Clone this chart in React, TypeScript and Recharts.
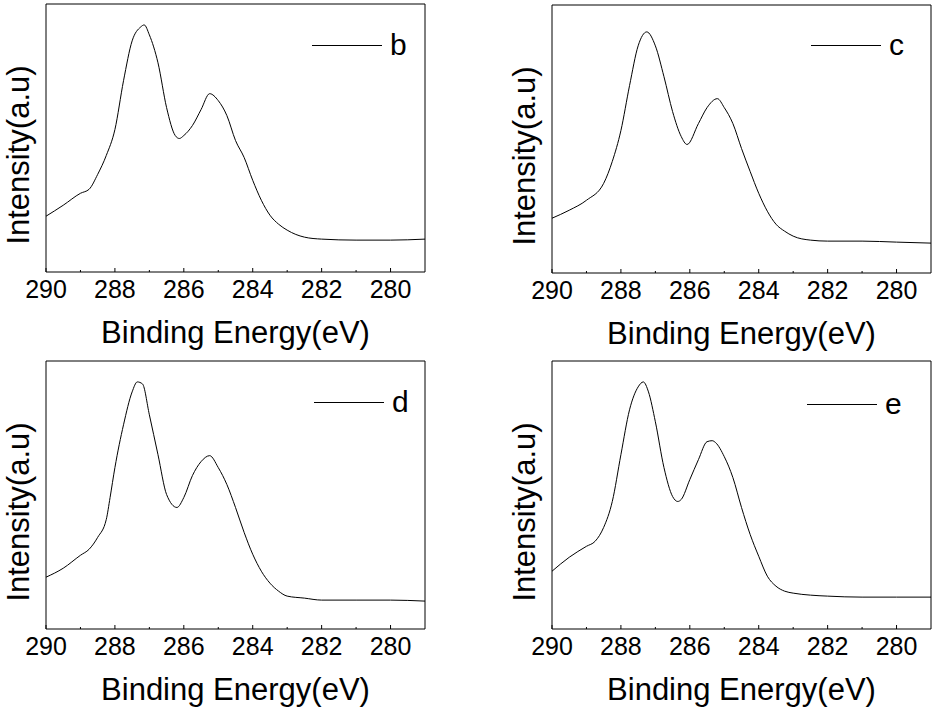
import React from 'react';
import { LineChart, Line, XAxis, YAxis, Legend } from 'recharts';

// C 1s spectra (energy in eV, intensity in a.u.)
const energyB = [290, 289.5, 289, 288.75, 288.5, 288.25, 288, 287.75, 287.5, 287.25, 287.15, 287, 286.75, 286.5, 286.25, 286.13, 286, 285.75, 285.5, 285.25, 285, 284.75, 284.5, 284.25, 284, 283.75, 283.5, 283.25, 283, 282.5, 282, 281, 280, 279];
const intensityB = [56, 67, 79, 83, 98, 117, 143, 192, 232, 246, 248, 238, 210, 165, 137, 134, 137, 147, 163, 179, 172, 157, 132, 115, 92, 72, 57, 48, 42, 35, 33, 32, 32, 33];

const energyC = [290, 289.5, 289, 288.5, 288.25, 288, 287.75, 287.5, 287.25, 287, 286.75, 286.5, 286.25, 286.08, 285.75, 285.5, 285.2, 285, 284.75, 284.5, 284.25, 284, 283.75, 283.5, 283.25, 283, 282.5, 282, 281, 280, 279];
const intensityC = [55, 63, 73, 90, 112, 143, 188, 228, 242, 228, 197, 162, 137, 129, 150, 166, 175, 166, 150, 125, 102, 80, 62, 49, 42, 37, 33, 32, 32, 31, 30];

const energyD = [290, 289.5, 289, 288.75, 288.5, 288.25, 288.14, 288, 287.75, 287.5, 287.35, 287.2, 287, 286.75, 286.5, 286.2, 286, 285.75, 285.5, 285.25, 285, 284.75, 284.5, 284.25, 284, 283.75, 283.5, 283.25, 283, 282.5, 282, 281, 280, 279];
const intensityD = [52, 61, 74, 80, 92, 110, 132, 162, 205, 238, 248, 246, 215, 175, 135, 122, 132, 154, 168, 174, 162, 145, 122, 97, 75, 58, 46, 38, 33, 31, 29, 29, 29, 28];

const energyE = [290, 289.5, 289, 288.75, 288.5, 288.25, 288, 287.75, 287.5, 287.35, 287.2, 287, 286.75, 286.5, 286.35, 286.25, 286, 285.75, 285.5, 285.35, 285.25, 285, 284.75, 284.5, 284.25, 284, 283.75, 283.5, 283.25, 283, 282.5, 282, 281, 280, 279];
const intensityE = [58, 72, 83, 88, 102, 128, 175, 220, 243, 248, 238, 208, 162, 133, 128, 130, 150, 170, 188, 189, 187, 173, 152, 122, 95, 73, 53, 43, 38, 36, 34, 33, 32, 32, 32];

const xTicks = [290, 289, 288, 287, 286, 285, 284, 283, 282, 281, 280];
const xDomain = [279, 290];
const yDomain = [0, 269];
const xTitle = 'Binding Energy(eV)';
const yTitle = 'Intensity(a.u)';

const FONT = '"Liberation Sans", Arial, Helvetica, sans-serif';

const panels = [
  { name: 'b', energy: energyB, intensity: intensityB, left: 0, top: 0, legendX: 312, legendY: 45 },
  { name: 'c', energy: energyC, intensity: intensityC, left: 506, top: 1, legendX: 305, legendY: 44 },
  { name: 'd', energy: energyD, intensity: intensityD, left: 0, top: 357, legendX: 314, legendY: 45 },
  { name: 'e', energy: energyE, intensity: intensityE, left: 506, top: 357, legendX: 301, legendY: 47 },
];

// ticks drawn inward, labels only on even values
const XTick = (props: any) => {
  const { x, y, payload } = props;
  const major = payload.value % 2 === 0;
  return (
    <g>
      <line x1={x} x2={x} y1={y} y2={y - (major ? 4 : 2)} stroke="#000" strokeWidth={1} />
      {major && (
        <text x={x} y={y + 26} textAnchor="middle" fontFamily={FONT} fontSize={25} fill="#000">
          {payload.value}
        </text>
      )}
    </g>
  );
};

const XTitle = (props: any) => {
  const vb = props.viewBox || {};
  return (
    <text x={vb.x + vb.width / 2} y={vb.y + 71} textAnchor="middle" fontFamily={FONT} fontSize={31} fill="#000">
      {xTitle}
    </text>
  );
};

const YTitle = (props: any) => {
  const vb = props.viewBox || {};
  const cx = vb.x + vb.width - 28;
  const cy = vb.y + vb.height / 2 + 17;
  return (
    <text
      x={cx}
      y={cy}
      transform={`rotate(-90 ${cx} ${cy})`}
      textAnchor="middle"
      dominantBaseline="central"
      fontFamily={FONT}
      fontSize={31}
      fill="#000"
    >
      {yTitle}
    </text>
  );
};

const Panel = ({ panel }: { panel: typeof panels[number] }) => {
  const rows = panel.energy.map((e, i) => ({ energy: e, intensity: panel.intensity[i] }));
  return (
    <div style={{ position: 'absolute', left: panel.left, top: panel.top }}>
      <LineChart width={429} height={350} data={rows} margin={{ top: 3, right: 3, bottom: 0, left: 45 }}>
        <XAxis
          dataKey="energy"
          type="number"
          domain={xDomain}
          reversed
          ticks={xTicks}
          interval={0}
          allowDataOverflow
          height={78}
          tickSize={0}
          tickMargin={0}
          tickLine={false}
          tick={<XTick />}
          axisLine={{ stroke: '#000', strokeWidth: 1 }}
          label={<XTitle />}
        />
        <XAxis
          xAxisId="top"
          orientation="top"
          type="number"
          domain={xDomain}
          reversed
          height={1}
          tick={false}
          tickLine={false}
          axisLine={{ stroke: '#000', strokeWidth: 1 }}
        />
        <YAxis
          type="number"
          domain={yDomain}
          allowDataOverflow
          width={1}
          tick={false}
          tickLine={false}
          axisLine={{ stroke: '#000', strokeWidth: 1 }}
          label={<YTitle />}
        />
        <YAxis
          yAxisId="right"
          orientation="right"
          type="number"
          domain={yDomain}
          width={1}
          tick={false}
          tickLine={false}
          axisLine={{ stroke: '#000', strokeWidth: 1 }}
        />
        <Legend
          layout="horizontal"
          verticalAlign="middle"
          align="center"
          wrapperStyle={{ left: panel.legendX, top: panel.legendY - 17, width: 'auto' }}
          content={(lp: any) => (
            <div style={{ display: 'flex', alignItems: 'center', fontFamily: FONT, fontSize: 30, lineHeight: '34px' }}>
              <span style={{ display: 'inline-block', width: 70, borderTop: '1px solid #000', marginRight: 8 }} />
              <span>{lp.payload?.[0]?.value ?? panel.name}</span>
            </div>
          )}
        />
        <Line
          name={panel.name}
          dataKey="intensity"
          type="monotone"
          stroke="#000"
          strokeWidth={1}
          dot={false}
          activeDot={false}
          isAnimationActive={false}
        />
      </LineChart>
    </div>
  );
}

export default function App() {
  return (
    <div style={{ position: 'absolute', left: 0, top: 0, width: 935, height: 711, background: '#fff', overflow: 'hidden' }}>
      {panels.map((p) => (
        <Panel key={p.name} panel={p} />
      ))}
    </div>
  );
}
